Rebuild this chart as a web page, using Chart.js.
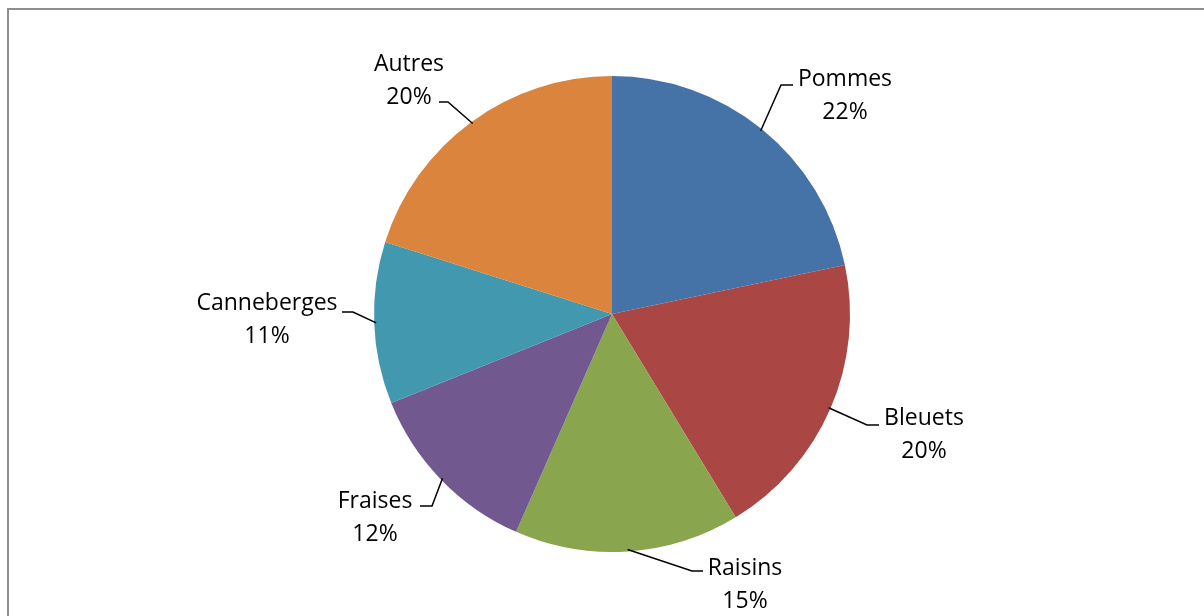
<!DOCTYPE html>
<html>
<head>
<meta charset="utf-8">
<style>
  html, body { margin: 0; padding: 0; background: #fff; overflow: hidden; }
  #wrap { width: 1204px; height: 616px; position: relative; }
</style>
<script src="https://cdn.jsdelivr.net/npm/chart.js@4/dist/chart.umd.min.js"></script>
</head>
<body>
<div id="wrap"><canvas id="fruitPie" width="1204" height="616"></canvas></div>
<script>
// Data (shares of the total)
const fruitLabels = ["Pommes", "Bleuets", "Raisins", "Fraises", "Canneberges", "Autres"];
const fruitValues = [21.7, 19.6, 15.3, 12.3, 11.0, 20.1];
const fruitColors = ["#4572A7", "#AA4643", "#89A54E", "#71588F", "#4198AF", "#DB843D"];

// Label placement relative to the pie centre (text centre, elbow, end of horizontal leader)
const labelLayout = [
  { tx: 233, ty: -235, ex: 169, ey: -229, hx: 181 },
  { tx: 312, ty: 104, ex: 255, ey: 111, hx: 267 },
  { tx: 133, ty: 254, ex: 80, ey: 257, hx: 91 },
  { tx: -237, ty: 187, ex: -180, ey: 192, hx: -192 },
  { tx: -345, ty: -11, ex: -259, ey: -2, hx: -270 },
  { tx: -203, ty: -250, ex: -164, ey: -212, hx: -173 },
];

const frameBorder = {
  id: "frameBorder",
  beforeDraw(chart) {
    const ctx = chart.ctx;
    ctx.save();
    ctx.strokeStyle = "#8e8e8e";
    ctx.lineWidth = 2;
    ctx.strokeRect(8, 9, 1400, 800);
    ctx.restore();
  },
};

const leaderLabels = {
  id: "leaderLabels",
  afterDatasetsDraw(chart) {
    const ctx = chart.ctx;
    const meta = chart.getDatasetMeta(0);
    const total = fruitValues.reduce((a, b) => a + b, 0);
    ctx.save();
    ctx.font = "23px 'Open Sans'";
    ctx.fillStyle = "#000";
    ctx.strokeStyle = "#000";
    ctx.lineWidth = 1.5;
    ctx.textAlign = "center";
    ctx.textBaseline = "middle";
    meta.data.forEach((arc, i) => {
      const p = arc.getProps(["x", "y", "startAngle", "endAngle", "outerRadius"], true);
      const mid = (p.startAngle + p.endAngle) / 2;
      const sx = p.x + Math.cos(mid) * (p.outerRadius - 2);
      const sy = p.y + Math.sin(mid) * (p.outerRadius - 2);
      const lay = labelLayout[i];
      ctx.beginPath();
      ctx.moveTo(sx, sy);
      ctx.lineTo(p.x + lay.ex, p.y + lay.ey);
      ctx.lineTo(p.x + lay.hx, p.y + lay.ey);
      ctx.stroke();
      const pct = Math.round((fruitValues[i] / total) * 100) + "%";
      ctx.fillText(fruitLabels[i], p.x + lay.tx, p.y + lay.ty);
      ctx.fillText(pct, p.x + lay.tx, p.y + lay.ty + 33);
    });
    ctx.restore();
  },
};

new Chart(document.getElementById("fruitPie"), {
  type: "pie",
  data: {
    labels: fruitLabels,
    datasets: [
      {
        data: fruitValues,
        backgroundColor: fruitColors,
        borderWidth: 0,
      },
    ],
  },
  options: {
    responsive: false,
    animation: false,
    layout: { padding: { left: 374, top: 76, right: 354, bottom: 64 } },
    plugins: {
      legend: { display: false },
      tooltip: { enabled: false },
    },
  },
  plugins: [frameBorder, leaderLabels],
});
</script>
</body>
</html>
